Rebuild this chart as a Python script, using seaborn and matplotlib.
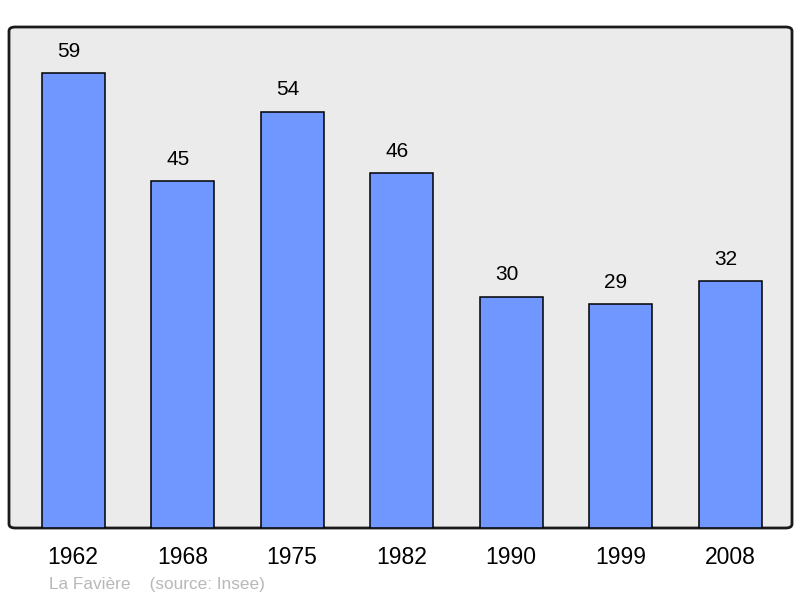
import seaborn as sns
import pandas as pd
import matplotlib.pyplot as plt
from matplotlib.patches import FancyBboxPatch

## Données
annees = ["1962", "1968", "1975", "1982", "1990", "1999", "2008"]
population = [59, 45, 54, 46, 30, 29, 32]

df = pd.DataFrame({"annee": annees, "population": population})

sns.set_style("white")
plt.rcParams["font.family"] = ["Liberation Sans", "DejaVu Sans"]

fig = plt.figure(figsize=(8, 5.98), dpi=100)
ax = fig.add_axes([9 / 800, 70 / 598, 783 / 800, 501 / 598])

ax.set_facecolor("none")
bg = FancyBboxPatch((0, 0), 1, 1, boxstyle="round,pad=0,rounding_size=0.008",
                    transform=ax.transAxes, facecolor="#ebebeb", edgecolor="#1a1a1a",
                    linewidth=2, zorder=0, clip_on=False)
ax.add_patch(bg)

sns.barplot(data=df, x="annee", y="population", color="#7097ff", saturation=1,
            width=0.575, edgecolor="black", linewidth=1.1, ax=ax, zorder=2)

for i, v in enumerate(population):
    ax.annotate(str(v), (i, v), xytext=(-3.3, 9), textcoords="offset points",
                ha="center", va="bottom", fontsize=15, color="black")

ax.set_xlim(-0.585, 6.565)
ax.set_ylim(0, 65)
ax.set_yticks([])
ax.set_xlabel("")
ax.set_ylabel("")
ax.tick_params(axis="x", length=0, pad=13, labelsize=16.5, labelcolor="black")
for s in ax.spines.values():
    s.set_visible(False)

fig.text(49 / 800, 1 - 584 / 598, "La Favière    (source: Insee)", fontsize=12.4,
         color="#b8b8b8", va="center", ha="left")

plt.savefig("out.png", dpi=100)
